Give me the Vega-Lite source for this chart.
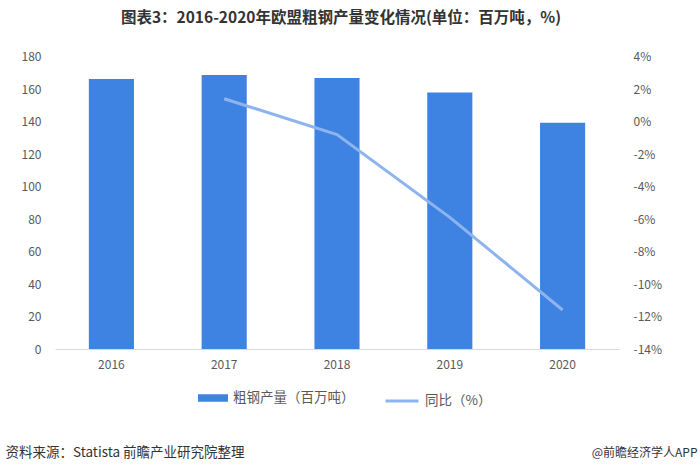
{
  "$schema": "https://vega.github.io/schema/vega-lite/v6.json",
  "width": 564,
  "height": 292.5,
  "autosize": {"type": "none"},
  "padding": {"left": 55, "top": 56.5, "right": 81, "bottom": 122},
  "background": "white",
  "config": {
    "font": "Noto Sans CJK SC",
    "view": {"stroke": null},
    "legend": {"padding": 0, "labelFont": "Noto Sans CJK SC", "labelFontSize": 13.5, "labelColor": "#595959", "labelOffset": 5}
  },
  "title": {
    "text": "图表3：2016-2020年欧盟粗钢产量变化情况(单位：百万吨，%)",
    "fontSize": 15.5,
    "fontWeight": "bold",
    "font": "Noto Sans CJK SC",
    "color": "#333333",
    "anchor": "middle",
    "frame": "group",
    "dx": 4,
    "offset": 24
  },
  "data": {
    "values": [
      {"year": "2016", "production": 166.2, "yoy": null},
      {"year": "2017", "production": 168.6, "yoy": 1.4},
      {"year": "2018", "production": 166.8, "yoy": -0.8},
      {"year": "2019", "production": 157.8, "yoy": -5.9},
      {"year": "2020", "production": 139.3, "yoy": -11.6}
    ]
  },
  "encoding": {
    "x": {
      "field": "year",
      "type": "ordinal",
      "scale": {"paddingInner": 0.6, "paddingOuter": 0.3},
      "axis": {
        "labelAngle": 0,
        "labelFontSize": 12,
        "labelColor": "#595959",
        "labelPadding": 10,
        "ticks": false,
        "domainColor": "#d9d9d9",
        "domainWidth": 1,
        "title": "资料来源：Statista 前瞻产业研究院整理",
        "titleX": -50,
        "titleY": 103,
        "titleAlign": "left",
        "titleBaseline": "middle",
        "titleFontSize": 13.5,
        "titleFontWeight": "normal",
        "titleColor": "#333333"
      }
    }
  },
  "layer": [
    {
      "mark": {"type": "bar"},
      "encoding": {
        "y": {
          "field": "production",
          "type": "quantitative",
          "scale": {"domain": [0, 180], "nice": false},
          "axis": {
            "values": [0, 20, 40, 60, 80, 100, 120, 140, 160, 180],
            "grid": false,
            "domain": false,
            "ticks": false,
            "labelPadding": 14,
            "labelFontSize": 12,
            "labelColor": "#595959",
            "title": null
          }
        },
        "fill": {
          "datum": "粗钢产量（百万吨）",
          "scale": {"range": ["#3F83E2"]},
          "legend": {
            "orient": "none",
            "legendX": 143,
            "legendY": 326.5,
            "title": null,
            "symbolType": "M-1,-0.25H1V0.25H-1Z",
            "symbolSize": 900,
            "symbolStrokeWidth": 0
          }
        }
      }
    },
    {
      "mark": {"type": "line", "strokeWidth": 3},
      "encoding": {
        "y": {
          "field": "yoy",
          "type": "quantitative",
          "scale": {"domain": [-14, 4], "nice": false},
          "axis": {
            "orient": "right",
            "values": [-14, -12, -10, -8, -6, -4, -2, 0, 2, 4],
            "labelExpr": "datum.value + '%'",
            "grid": false,
            "domain": false,
            "ticks": false,
            "labelPadding": 14,
            "labelFontSize": 12,
            "labelColor": "#595959",
            "title": "@前瞻经济学人APP",
            "titleAngle": 0,
            "titleX": 78,
            "titleY": 395.5,
            "titleAlign": "right",
            "titleBaseline": "middle",
            "titleFontSize": 12,
            "titleFontWeight": "normal",
            "titleColor": "#333333"
          }
        },
        "stroke": {
          "datum": "同比（%）",
          "scale": {"range": ["#8DB4EE"]},
          "legend": {
            "orient": "none",
            "legendX": 329,
            "legendY": 326.5,
            "title": null,
            "symbolType": "stroke",
            "symbolSize": 1089,
            "symbolStrokeWidth": 3
          }
        }
      }
    }
  ],
  "resolve": {"scale": {"y": "independent", "fill": "independent", "stroke": "independent"}}
}
